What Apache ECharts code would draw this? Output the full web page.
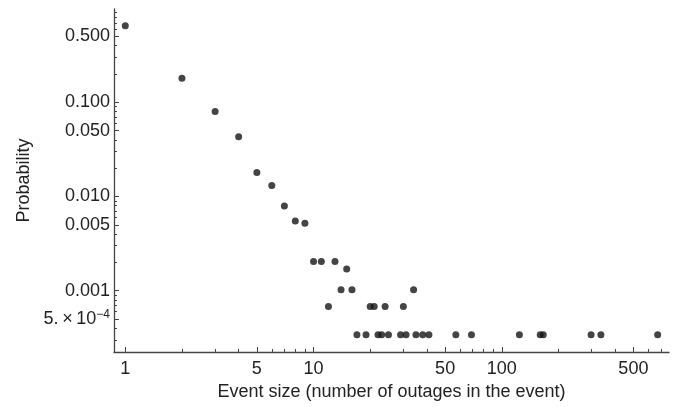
<!DOCTYPE html>
<html>
<head>
<meta charset="utf-8">
<script src="https://cdn.jsdelivr.net/npm/echarts@6/dist/echarts.min.js"></script>
<style>
    html, body { margin: 0; padding: 0; background: #fff; }
    #chart { width: 677px; height: 407px; }
</style>
</head>
<body>
<div id="chart"></div>
<script>
// event size vs probability (log-log)
var eventSizes = [1, 2, 3, 4, 5, 6, 7, 8, 9, 10, 11, 12, 13, 14, 15, 16, 17, 19, 20, 21,
    22, 23, 24, 25, 29, 30, 31, 34, 35, 38, 41, 57, 69, 124, 160, 166, 298, 336, 673]
var probabilities = [0.65, 0.18, 0.08, 0.043, 0.018, 0.0131, 0.0079, 0.0055, 0.0052, 0.00204,
    0.00204, 0.00068, 0.00204, 0.00102, 0.0017, 0.00102, 0.00034, 0.00034, 0.00068, 0.00068,
    0.00034, 0.00034, 0.00068, 0.00034, 0.00034, 0.00068, 0.00034, 0.00102, 0.00034, 0.00034,
    0.00034, 0.00034, 0.00034, 0.00034, 0.00034, 0.00034, 0.00034, 0.00034, 0.00034]

var xMajorTicks = [1, 5, 10, 50, 100, 500]
var xMinorTicks = [2, 3, 4, 6, 7, 8, 9, 20, 30, 40, 60, 70, 80, 90, 200, 300, 400, 600, 700]
var yMajorTicks = [0.5, 0.1, 0.05, 0.01, 0.005, 0.001, 0.0005]
var yMinorTicks = [0.9, 0.8, 0.7, 0.6, 0.4, 0.3, 0.2, 0.09, 0.08, 0.07, 0.06, 0.04, 0.03, 0.02,
    0.009, 0.008, 0.007, 0.006, 0.004, 0.003, 0.002, 0.0009, 0.0008, 0.0007, 0.0006, 0.0004, 0.0003]

var xMin = 0.871, xMax = 773
var yMin = 0.000223, yMax = 0.98

var font = 'Liberation Sans, Arial, sans-serif'
var axisColor = '#444'

var chart = echarts.init(document.getElementById('chart'))

var points = eventSizes.map(function (s, i) { return [s, probabilities[i]] })

function yLabel(v) {
    if (v < 0.0009) return '{a|5.\u2009\u00d7\u200910}{s|\u22124}'
    return '{a|' + v.toFixed(3) + '}'
}

var option = {
    animation: false,
    grid: { left: 114, right: 8, top: 9, bottom: 55, outerBoundsMode: 'none' },
    xAxis: [
        {
            type: 'log', min: xMin, max: xMax, position: 'bottom',
            name: 'Event size (number of outages in the event)',
            nameLocation: 'middle', nameGap: 29,
            nameTextStyle: { fontFamily: font, fontSize: 18, color: '#222' },
            axisLine: { lineStyle: { color: axisColor, width: 1.3 } },
            axisTick: { inside: true, length: 5, customValues: xMajorTicks, lineStyle: { color: axisColor } },
            axisLabel: {
                customValues: xMajorTicks, margin: 8,
                fontFamily: font, fontSize: 18, color: '#222',
                formatter: function (v) { return String(Math.round(v)) }
            },
            splitLine: { show: false }
        },
        {
            type: 'log', min: xMin, max: xMax, position: 'bottom',
            axisLine: { show: false },
            axisTick: { inside: true, length: 3, customValues: xMinorTicks, lineStyle: { color: axisColor } },
            axisLabel: { show: false },
            splitLine: { show: false }
        }
    ],
    yAxis: [
        {
            type: 'log', min: yMin, max: yMax, position: 'left',
            name: 'Probability',
            nameLocation: 'middle', nameGap: 79,
            nameTextStyle: { fontFamily: font, fontSize: 18, color: '#222' },
            axisLine: { lineStyle: { color: axisColor, width: 1.3 } },
            axisTick: { inside: true, length: 5, customValues: yMajorTicks, lineStyle: { color: axisColor } },
            axisLabel: {
                customValues: yMajorTicks, margin: 4,
                formatter: yLabel,
                rich: {
                    a: { fontFamily: font, fontSize: 18, color: '#222' },
                    s: { fontFamily: font, fontSize: 12, color: '#222', verticalAlign: 'top', padding: [0, 0, 8, 0] }
                }
            },
            splitLine: { show: false }
        },
        {
            type: 'log', min: yMin, max: yMax, position: 'left',
            axisLine: { show: false },
            axisTick: { inside: true, length: 3, customValues: yMinorTicks, lineStyle: { color: axisColor } },
            axisLabel: { show: false },
            splitLine: { show: false }
        }
    ],
    series: [
        {
            type: 'scatter',
            xAxisIndex: 0,
            yAxisIndex: 0,
            data: points,
            symbol: 'circle',
            symbolSize: 7,
            itemStyle: { color: '#151515' }
        }
    ]
}

chart.setOption(option)
</script>
</body>
</html>
